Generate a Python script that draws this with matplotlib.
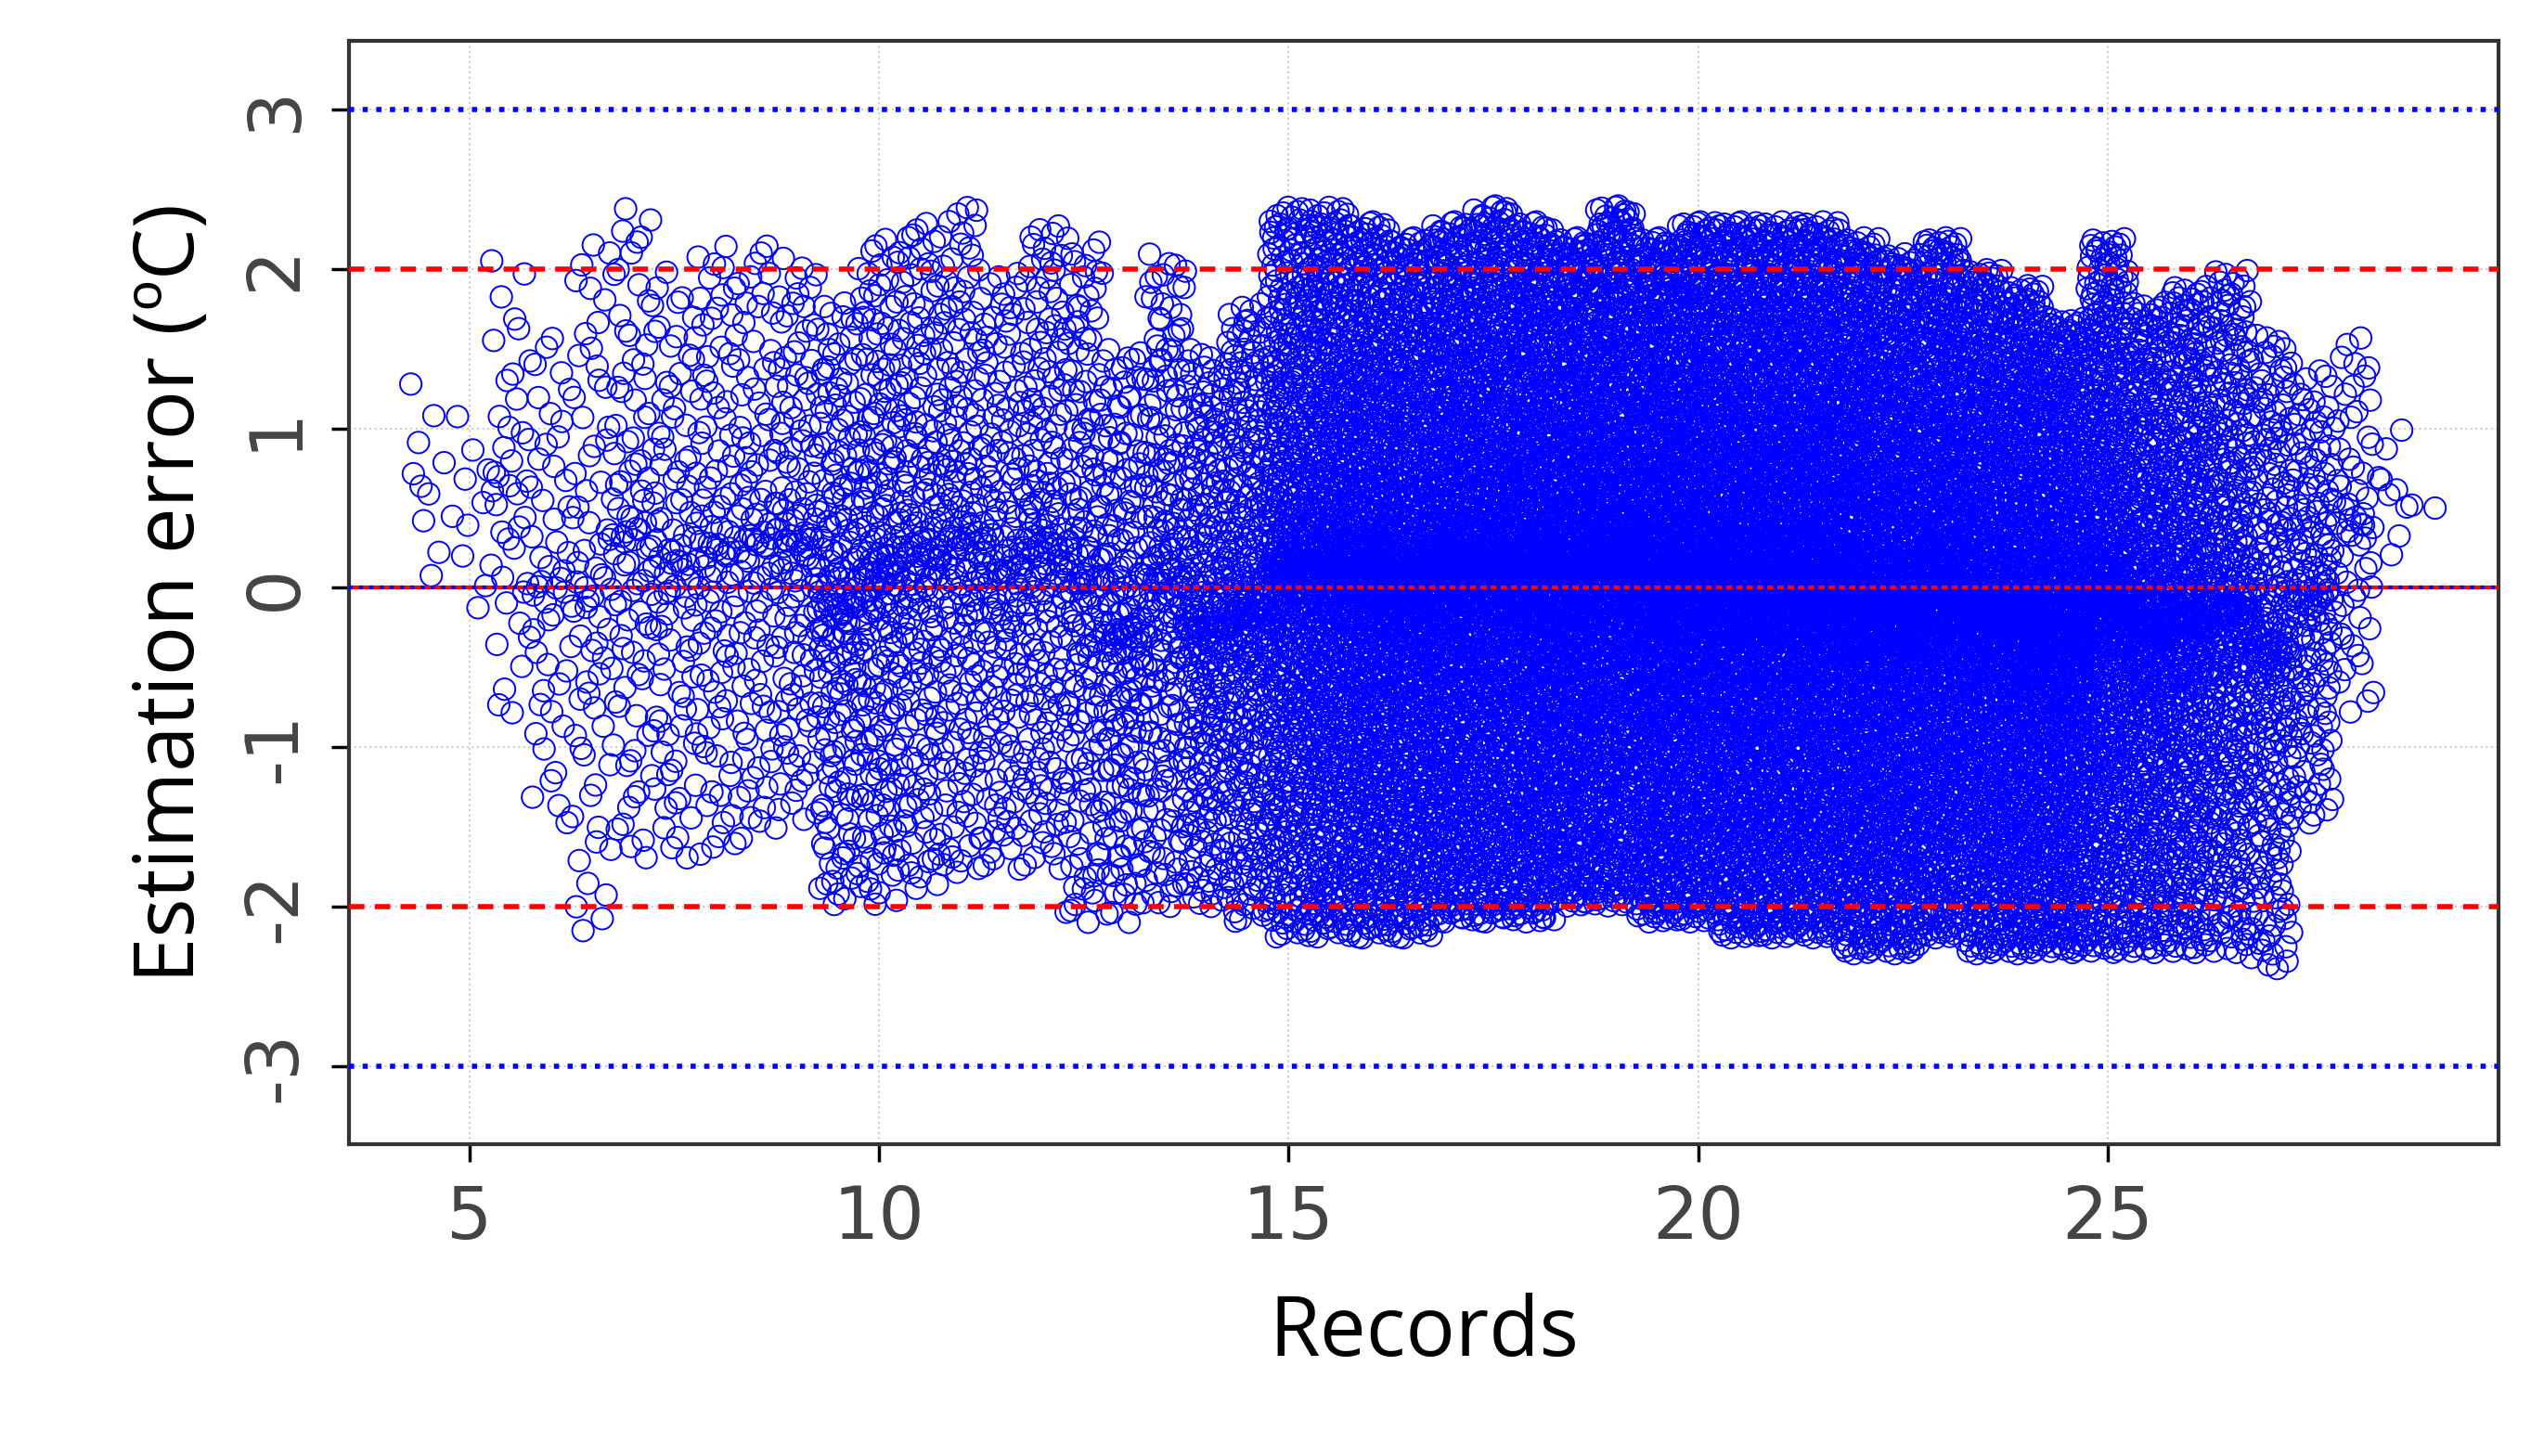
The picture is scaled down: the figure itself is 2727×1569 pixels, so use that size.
import matplotlib.pyplot as plt
import numpy as np

# envelope of the estimation error, read per half-record bin
bin_centers = [4.5, 5.0, 5.5, 6.0, 6.5, 7.0, 7.5, 8.0, 8.5, 9.0, 9.5, 10.0, 10.5,
               11.0, 11.5, 12.0, 12.5, 13.0, 13.5, 14.0, 14.5, 15.0, 15.5, 16.0,
               16.5, 17.0, 17.5, 18.0, 18.5, 19.0, 19.5, 20.0, 20.5, 21.0, 21.5,
               22.0, 22.5, 23.0, 23.5, 24.0, 24.5, 25.0, 25.5, 26.0, 26.5, 27.0,
               27.5, 28.0, 28.5, 29.0]
bin_low = [0.0, -0.3, -0.8, -1.6, -2.2, -1.7, -1.7, -1.7, -1.6, -1.5, -2.0, -2.0, -1.9,
           -1.8, -1.8, -1.8, -2.1, -2.1, -2.0, -2.0, -2.1, -2.2, -2.2, -2.2,
           -2.2, -2.1, -2.1, -2.1, -2.0, -2.0, -2.1, -2.1, -2.2, -2.2, -2.2,
           -2.3, -2.3, -2.2, -2.3, -2.3, -2.3, -2.3, -2.3, -2.3, -2.3, -2.4,
           -1.5, -0.8, 0.2, 0.5]
bin_high = [1.5, 1.2, 2.1, 1.6, 2.2, 2.4, 2.0, 2.2, 2.2, 2.1, 1.8, 2.2, 2.3,
            2.4, 2.0, 2.3, 2.2, 1.5, 2.1, 1.5, 1.8, 2.4, 2.4, 2.3,
            2.2, 2.3, 2.4, 2.3, 2.2, 2.4, 2.2, 2.3, 2.3, 2.3, 2.3,
            2.2, 2.1, 2.2, 2.0, 1.9, 1.7, 2.2, 1.8, 1.9, 2.0, 1.6,
            1.4, 1.6, 1.0, 0.5]
bin_count = [10, 10, 40, 50, 70, 90, 90, 100, 100, 120, 180, 200, 180,
             170, 150, 170, 180, 180, 200, 250, 300, 500, 600, 650,
             650, 700, 700, 750, 750, 750, 800, 800, 800, 800, 800,
             800, 750, 750, 700, 700, 650, 600, 500, 450, 350, 250,
             150, 60, 10, 1]


def halton(k, base):
    f, r = 1.0, 0.0
    while k > 0:
        f /= base
        r += f * (k % base)
        k //= base
    return r


xs, ys = [], []
for i, (c, lo, hi, n) in enumerate(zip(bin_centers, bin_low, bin_high, bin_count)):
    mid, half = (lo + hi) / 2, (hi - lo) / 2
    if n == 1:
        xs.append(c)
        ys.append(mid)
        continue
    for k in range(1 + 37 * i, n + 1 + 37 * i):
        u = halton(k, 2)
        t = 2 * halton(k, 3) - 1
        xs.append(c - 0.25 + 0.5 * u)
        ys.append(mid + half * np.sign(t) * abs(t) ** 1.4)

fig = plt.figure(figsize=(27.27, 15.69), dpi=100)
ax = fig.add_axes([0.138, 0.214, 0.849, 0.758])

ax.grid(color="#cccccc", linestyle=":", linewidth=1.5)
ax.scatter(xs, ys, s=280, facecolors="none", edgecolors="blue", linewidths=1.4, zorder=2)

ax.axhline(0, color="red", linewidth=3, zorder=3)
ax.axhline(0, color="blue", linestyle=":", linewidth=3, zorder=3)
for yv in (2, -2):
    ax.axhline(yv, color="red", linestyle="--", linewidth=4, dashes=(3, 2), zorder=3)
for yv in (3, -3):
    ax.axhline(yv, color="blue", linestyle=":", linewidth=4, zorder=3)

ax.set_xlim(3.53, 29.77)
ax.set_ylim(-3.49, 3.43)
ax.set_xticks([5, 10, 15, 20, 25])
ax.set_yticks([-3, -2, -1, 0, 1, 2, 3])
ax.set_yticklabels(["-3", "-2", "-1", "0", "1", "2", "3"])
ax.tick_params(labelsize=56, labelcolor="#444444", length=14, width=2.5, pad=16)
for lbl in ax.get_yticklabels():
    lbl.set_rotation(90)
    lbl.set_va("center")
for sp in ax.spines.values():
    sp.set_linewidth(3)
    sp.set_color("#333333")

ax.set_xlabel("Records", fontsize=64, family="Open Sans", labelpad=30)
ax.set_ylabel("Estimation error (ºC)", fontsize=64, family="Open Sans", labelpad=20)

fig.savefig("out.png", dpi=100)
